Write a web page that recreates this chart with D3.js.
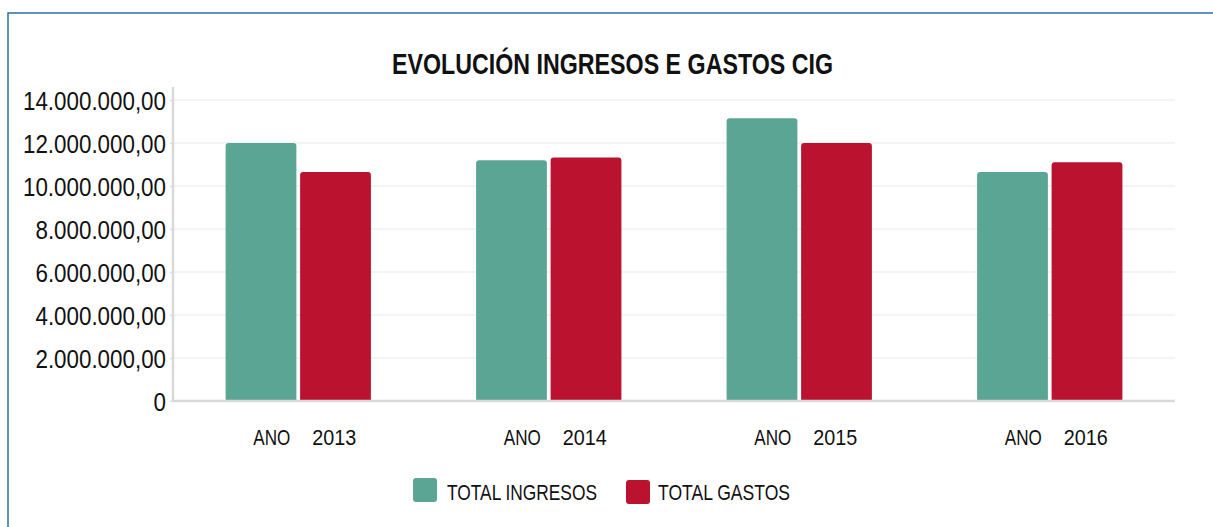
<!DOCTYPE html>
<html><head><meta charset="utf-8">
<script src="https://cdn.jsdelivr.net/npm/d3@7"></script>
<style>
body{margin:0;background:#fff;}
svg{display:block;font-family:"Liberation Sans",Arial,sans-serif;}
</style></head>
<body>
<svg id="c" width="1213" height="527"></svg>
<script>
const categories = ["2013","2014","2015","2016"];
const categoryPrefix = "ANO";
const seriesNames = ["TOTAL INGRESOS","TOTAL GASTOS"];
const ingresos = [12000000, 11200000, 13150000, 10650000];
const gastos = [10650000, 11320000, 12000000, 11100000];
const yTicks = [0,2000000,4000000,6000000,8000000,10000000,12000000,14000000];
const colors = ["#5aa594","#bb1230"];
const title = "EVOLUCIÓN INGRESOS E GASTOS CIG";

const svg = d3.select("#c");
const m={left:173,right:1175,top:100,bottom:401};

function squeeze(sel,k){
  sel.each(function(){
    const w=this.getComputedTextLength();
    this.setAttribute("textLength",w*k);
    this.setAttribute("lengthAdjust","spacingAndGlyphs");
  });
}

// outer border
svg.append("rect").attr("x",8).attr("y",13).attr("width",1230).attr("height",540)
  .attr("fill","none").attr("stroke","#2c6ea6").attr("stroke-width",1.5);

svg.append("text").attr("x",612.5).attr("y",74).attr("text-anchor","middle")
  .attr("font-weight","bold").attr("font-size",29.5).attr("fill","#111")
  .attr("textLength",441).attr("lengthAdjust","spacingAndGlyphs").text(title);

const y=d3.scaleLinear().domain([0,14000000]).range([m.bottom,m.top]);
const x0=d3.scaleBand().domain(categories).range([m.left,m.right]).paddingInner(0.42).paddingOuter(0.21);
const x1=d3.scaleBand().domain([0,1]).range([0,x0.bandwidth()]).paddingInner(0.05);

// grid
svg.append("g").selectAll("line").data(yTicks.filter(d=>d>0)).join("line")
  .attr("x1",m.left).attr("x2",m.right).attr("y1",d=>y(d)).attr("y2",d=>y(d))
  .attr("stroke","#f1f1f1").attr("stroke-width",1.5);

// y axis labels
const fmt = d=> d===0 ? "0" : d3.format(",.2f")(d).replace(/,/g,"#").replace(".",",").replace(/#/g,".");
const yAxis=d3.axisLeft(y).tickValues(yTicks).tickFormat(fmt).tickSize(3).tickPadding(4);
const ga=svg.append("g").attr("transform",`translate(${m.left},0)`).call(yAxis);
ga.select(".domain").remove();
ga.selectAll(".tick line").attr("stroke","#ddd").attr("stroke-width",1.5);
ga.selectAll(".tick text").attr("font-size",26).attr("fill","#111").attr("font-family","inherit")
  .attr("dy","0.36em");
squeeze(ga.selectAll(".tick text"),0.86);
svg.append("line").attr("x1",m.left).attr("x2",m.left).attr("y1",87).attr("y2",m.bottom)
  .attr("stroke","#d9d9d9").attr("stroke-width",2.5);

// bars
function barPath(x,yy,w,h,r){
  r=Math.min(r,h,w/2);
  return `M${x},${yy+h}V${yy+r}Q${x},${yy} ${x+r},${yy}H${x+w-r}Q${x+w},${yy} ${x+w},${yy+r}V${yy+h}Z`;
}
const series=[ingresos,gastos];
series.forEach((vals,si)=>{
  svg.append("g").selectAll("path").data(categories).join("path")
    .attr("d",(c,i)=>barPath(x0(c)+x1(si),y(vals[i]),x1.bandwidth(),y(0)-y(vals[i]),3))
    .attr("fill",colors[si]);
});

// bottom axis
svg.append("line").attr("x1",m.left).attr("x2",m.right).attr("y1",m.bottom).attr("y2",m.bottom)
  .attr("stroke","#d9d9d9").attr("stroke-width",2.5);

// x labels
const gx=svg.append("g").attr("font-size",21.5).attr("fill","#111");
categories.forEach(c=>{
  const cx=x0(c)+x0.bandwidth()/2;
  gx.append("text").attr("x",cx-45).attr("y",444.5).attr("text-anchor","start")
    .attr("textLength",37).attr("lengthAdjust","spacingAndGlyphs").text(categoryPrefix);
  gx.append("text").attr("x",cx+58).attr("y",444.5).attr("text-anchor","end")
    .attr("textLength",44).attr("lengthAdjust","spacingAndGlyphs").text(c);
});

// legend
const leg=[{x:413,y:478,tx:447,tl:150},{x:626,y:480,tx:658,tl:132}];
seriesNames.forEach((n,i)=>{
  svg.append("rect").attr("x",leg[i].x).attr("y",leg[i].y).attr("width",24).attr("height",24)
    .attr("rx",3).attr("fill",colors[i]);
  svg.append("text").attr("x",leg[i].tx).attr("y",499.5).attr("font-size",22).attr("fill","#111")
    .attr("textLength",leg[i].tl).attr("lengthAdjust","spacingAndGlyphs").text(n);
});
</script>
</body></html>
